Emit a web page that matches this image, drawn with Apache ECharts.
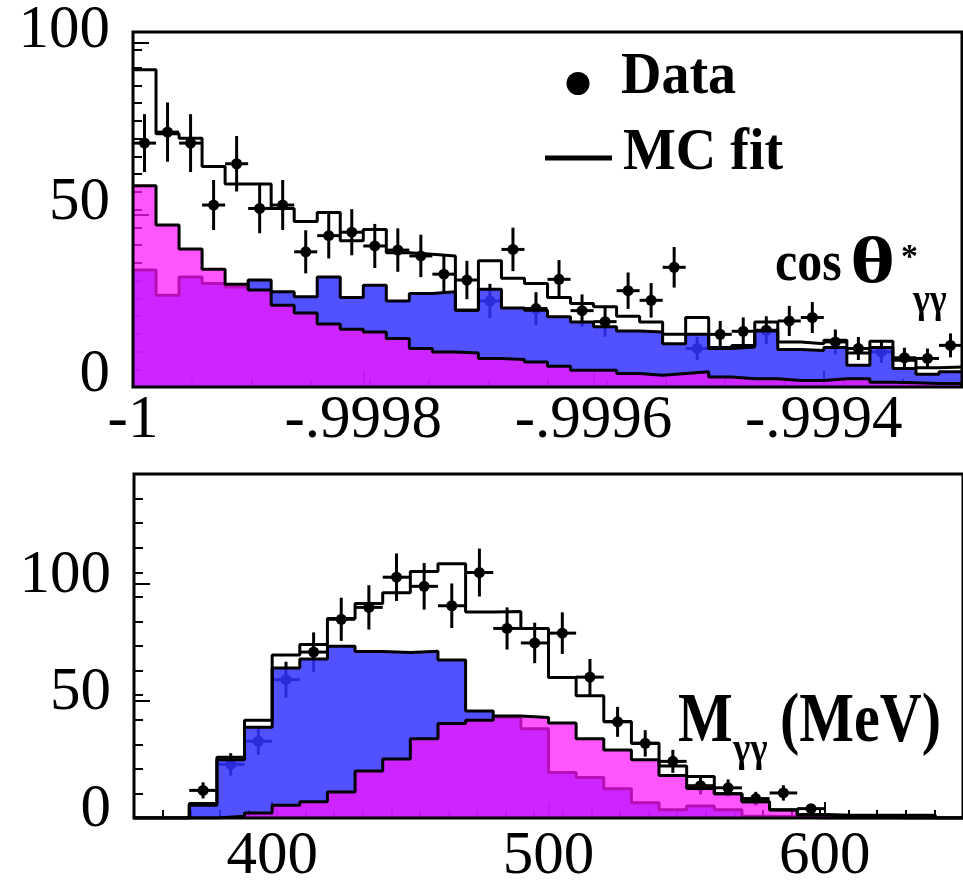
<!DOCTYPE html>
<html>
<head>
<meta charset="utf-8">
<script src="https://cdn.jsdelivr.net/npm/echarts@6/dist/echarts.min.js"></script>
<style>
  html, body { margin: 0; padding: 0; background: #fff; }
  #chart { width: 963px; height: 887px; }
</style>
</head>
<body>
<div id="chart"></div>
<script>
// ---- cos θ*γγ panel: 36 bins of width 0.00002 starting at -1 ----
const cosBinStart = -1;
const cosBinWidth = 0.00002;
const cosData  = [70.9, 74.1, 70.9, 52.9, 64.9, 51.9, 52.9, 39.3, 44.0, 45.0, 41.0, 39.8, 38.1, 32.8, 31.1, 25.0, 40.0, 22.8,
                  31.3, 22.2, 19.0, 28.0, 25.2, 34.8, 11.2, 15.3, 16.2, 16.5, 19.2, 20.2, 13.1, 11.2, 10.2, 8.5, 8.3, 12.1];
const cosTotal = [92.2, 73.6, 72.3, 64.1, 59.0, 59.0, 51.9, 48.1, 50.7, 42.5, 45.8, 39.0, 38.6, 38.1, 22.3, 36.7, 31.6, 30.1,
                  26.0, 24.3, 23.3, 20.6, 18.9, 15.3, 20.2, 11.5, 12.1, 18.9, 13.1, 12.6, 13.6, 9.9, 13.3, 7.8, 5.6, 5.8];
const cosBlue  = [34.0, 26.7, 32.0, 30.1, 29.1, 31.1, 27.7, 26.2, 32.0, 26.0, 29.6, 25.0, 27.2, 27.7, 22.3, 28.4, 23.0, 22.3,
                  20.4, 18.9, 17.5, 16.3, 16.0, 12.6, 15.3, 11.2, 11.6, 16.3, 10.9, 10.6, 11.5, 6.3, 11.5, 5.4, 3.7, 4.4];
const cosPink  = [58.5, 47.1, 40.1, 34.2, 29.9, 28.2, 23.8, 21.5, 18.3, 16.8, 16.0, 14.1, 11.2, 10.2, 9.9, 8.3, 8.0, 7.3,
                  6.0, 4.9, 4.9, 3.9, 3.4, 3.9, 4.4, 2.9, 2.4, 2.4, 1.9, 1.9, 2.4, 2.4, 1.4, 1.2, 1.0, 1.0];

// ---- Mγγ panel: 30 bins of 10 MeV from 350 to 650 ----
const massBinStart = 350;
const massBinWidth = 10;
const massData  = [null, null, 11.8, 22.9, 32.8, 59.1, 70.9, 84.9, 90.0, 102.9, 99.0, 90.7, 104.9, 81.0, 74.8,
                   79.0, 60.2, 41.1, 31.9, 24.2, 13.8, 12.9, 8.3, 10.7, 4.0, null, null, null, null, null];
const massTotal = [0, 0, 6.2, 26.0, 41.8, 69.7, 74.1, 85.2, 91.7, 96.3, 105.3, 108.7, 88.0, 88.2, 81.0,
                   60.0, 52.2, 41.2, 31.9, 22.2, 17.7, 10.4, 6.9, 3.5, 1.5, 1.2, 1.2, 1.2, 1.2, 0];
const massBlue  = [0, 0, 5.5, 24.9, 38.8, 64.1, 67.9, 73.4, 71.1, 70.7, 71.3, 67.5, 45.7, 43.0, 38.1,
                   19.4, 17.3, 12.5, 6.5, 3.5, 5.1, 3.5, 0.8, 0.5, 0, 0, 0, 0, 0, 0];
const massPink  = [0, 0, 0, 0.7, 2.1, 5.5, 6.9, 11.1, 20.1, 25.2, 33.9, 40.4, 41.8, 43.6, 42.9,
                   40.6, 33.9, 29.1, 24.9, 18.2, 12.6, 10.4, 6.9, 3.4, 1.3, 0.8, 0.5, 0, 0, 0];

// ---- axis ranges and tick labels ----
const cosXRange = [-1, -0.99928];
const cosYRange = [0, 103.2];
const massXRange = [350, 650];
const massYRange = [0, 147];
const cosXLabels = [-1, -0.9998, -0.9996, -0.9994];
const cosXMinorStep = 0.00005;
const cosYLabels = [0, 50, 100];
const cosYMinorStep = 5;
const massXLabels = [400, 500, 600];
const massXMinorStep = 10;
const massYLabels = [0, 50, 100];
const massYMinorStep = 10;

const SERIF = '"Liberation Serif", "Times New Roman", serif';
const BLUE_FILL = 'rgba(50, 50, 255, 0.85)';
const PINK_FILL = 'rgba(255, 20, 255, 0.72)';

function steps(lo, hi, step) {
  const out = [];
  const n = Math.floor((hi - lo) / step + 1e-6);
  for (let i = 0; i <= n; i++) out.push(+(lo + i * step).toFixed(6));
  return out;
}

// histogram outline points: left edge of every bin plus the closing right edge
function histPoints(start, width, values) {
  const pts = values.map((v, i) => [start + i * width, v]);
  pts.push([start + values.length * width, values[values.length - 1]]);
  return pts;
}

// data points: bin centre, count, Poisson error, bin width
function dataPoints(start, width, values) {
  const out = [];
  values.forEach((v, i) => {
    if (v != null) out.push([start + (i + 0.5) * width, v, Math.sqrt(v), width]);
  });
  return out;
}

function histSeries(grid, start, width, values, fill, z) {
  const s = {
    type: 'line', step: 'end', symbol: 'none', silent: true,
    xAxisIndex: grid * 2, yAxisIndex: grid * 2, z: z,
    data: histPoints(start, width, values),
    lineStyle: { color: '#000', width: 3 }
  };
  if (fill) s.areaStyle = { color: fill, opacity: 1, origin: 'start' };
  return s;
}

function dataSeries(grid, start, width, values) {
  return {
    type: 'custom', silent: true, z: 1,
    xAxisIndex: grid * 2, yAxisIndex: grid * 2,
    data: dataPoints(start, width, values),
    encode: { x: 0, y: 1 },
    renderItem(params, api) {
      const x = api.value(0), y = api.value(1), e = api.value(2), w = api.value(3);
      const c = api.coord([x, y]);
      const hi = api.coord([x, y + e]);
      const lo = api.coord([x, Math.max(0, y - e)]);
      const l = api.coord([x - w / 2, y]);
      const r = api.coord([x + w / 2, y]);
      return {
        type: 'group',
        children: [
          { type: 'line', shape: { x1: c[0], y1: hi[1], x2: c[0], y2: lo[1] }, style: { stroke: '#000', lineWidth: 3 } },
          { type: 'line', shape: { x1: l[0], y1: c[1], x2: r[0], y2: c[1] }, style: { stroke: '#000', lineWidth: 3 } },
          { type: 'circle', shape: { cx: c[0], cy: c[1], r: 5.5 }, style: { fill: '#000' } }
        ]
      };
    }
  };
}

function majorAxis(grid, pos, range, labels, formatter, labelOpt) {
  return {
    gridIndex: grid, type: 'value', position: pos, min: range[0], max: range[1], z: 1,
    axisLine: { show: false },
    axisTick: { show: true, inside: true, length: 16, customValues: labels, lineStyle: { color: '#000', width: 2 } },
    axisLabel: Object.assign({
      customValues: labels, formatter: formatter, showMinLabel: true, showMaxLabel: true,
      color: '#000', fontFamily: SERIF, fontSize: 61
    }, labelOpt),
    splitLine: { show: false }
  };
}

function minorAxis(grid, pos, range, step, len) {
  return {
    gridIndex: grid, type: 'value', position: pos, min: range[0], max: range[1], z: 1,
    axisLine: { show: false },
    axisTick: { show: true, inside: true, length: len, customValues: steps(range[0], range[1], step), lineStyle: { color: '#000', width: 2 } },
    axisLabel: { show: false },
    splitLine: { show: false }
  };
}

const cosFormat = v => (Math.abs(v + 1) < 1e-9 ? '-1' : v.toFixed(4).replace('-0.', '-.'));
const intFormat = v => String(Math.round(v));

const chart = echarts.init(document.getElementById('chart'), null, { renderer: 'canvas' });

chart.setOption({
  animation: false,
  backgroundColor: '#fff',
  grid: [
    { left: 133, top: 32, width: 829, height: 355, show: true, z: 10, backgroundColor: 'transparent', borderColor: '#000', borderWidth: 3 },
    { left: 134, top: 474, width: 834, height: 354, show: true, z: 10, backgroundColor: 'transparent', borderColor: '#000', borderWidth: 3 }
  ],
  xAxis: [
    majorAxis(0, 'bottom', cosXRange, cosXLabels, cosFormat, { margin: 3 }),
    minorAxis(0, 'bottom', [cosXRange[0], -0.9993], cosXMinorStep, 8),
    majorAxis(1, 'bottom', massXRange, massXLabels, intFormat, { margin: 8 }),
    minorAxis(1, 'bottom', [massXRange[0], 640], massXMinorStep, 8)
  ],
  yAxis: [
    majorAxis(0, 'left', cosYRange, cosYLabels, intFormat, { margin: 23, verticalAlign: 'bottom', lineHeight: 24 }),
    minorAxis(0, 'left', [0, 100], cosYMinorStep, 9),
    majorAxis(1, 'left', massYRange, massYLabels, intFormat, { margin: 23, verticalAlign: 'bottom', lineHeight: 16 }),
    minorAxis(1, 'left', [0, 140], massYMinorStep, 9)
  ],
  series: [
    dataSeries(0, cosBinStart, cosBinWidth, cosData),
    histSeries(0, cosBinStart, cosBinWidth, cosBlue, BLUE_FILL, 2),
    histSeries(0, cosBinStart, cosBinWidth, cosPink, PINK_FILL, 3),
    histSeries(0, cosBinStart, cosBinWidth, cosTotal, null, 4),
    dataSeries(1, massBinStart, massBinWidth, massData),
    histSeries(1, massBinStart, massBinWidth, massBlue, BLUE_FILL, 2),
    histSeries(1, massBinStart, massBinWidth, massPink, PINK_FILL, 3),
    histSeries(1, massBinStart, massBinWidth, massTotal, null, 4)
  ],
  graphic: [
    // legend
    { type: 'circle', z: 20, shape: { cx: 578, cy: 83.5, r: 11.5 }, style: { fill: '#000' } },
    { type: 'text', z: 20, x: 621, y: 78, scaleY: 1.06, style: { text: 'Data', font: 'bold 56px ' + SERIF, fill: '#000', verticalAlign: 'middle' } },
    { type: 'line', z: 20, shape: { x1: 545, y1: 158, x2: 612, y2: 158 }, style: { stroke: '#000', lineWidth: 5 } },
    { type: 'text', z: 20, x: 623, y: 154, scaleY: 1.06, style: { text: 'MC fit', font: 'bold 56px ' + SERIF, fill: '#000', verticalAlign: 'middle' } },
    // cos θ*γγ
    { type: 'text', z: 20, x: 775, y: 265, scaleY: 1.15, style: { text: 'cos', font: 'bold 50px ' + SERIF, fill: '#000', verticalAlign: 'middle' } },
    { type: 'text', z: 20, x: 850, y: 265, scaleX: 1.45, scaleY: 1.08, style: { text: 'θ', font: 'bold 60px ' + SERIF, fill: '#000', verticalAlign: 'middle' } },
    { type: 'text', z: 20, x: 901, y: 258, style: { text: '*', font: 'bold 34px ' + SERIF, fill: '#000', verticalAlign: 'middle' } },
    { type: 'text', z: 20, x: 913, y: 301, scaleY: 1.15, style: { text: 'γγ', font: 'bold 36px ' + SERIF, fill: '#000', verticalAlign: 'middle' } },
    // Mγγ (MeV)
    { type: 'text', z: 20, x: 678, y: 723, scaleY: 1.2, style: { text: 'M', font: 'bold 58px ' + SERIF, fill: '#000', verticalAlign: 'middle' } },
    { type: 'text', z: 20, x: 733, y: 750, scaleY: 1.15, style: { text: 'γγ', font: 'bold 37px ' + SERIF, fill: '#000', verticalAlign: 'middle' } },
    { type: 'text', z: 20, x: 780, y: 723, scaleY: 1.2, style: { text: '(MeV)', font: 'bold 58px ' + SERIF, fill: '#000', verticalAlign: 'middle' } }
  ]
});
</script>
</body>
</html>
